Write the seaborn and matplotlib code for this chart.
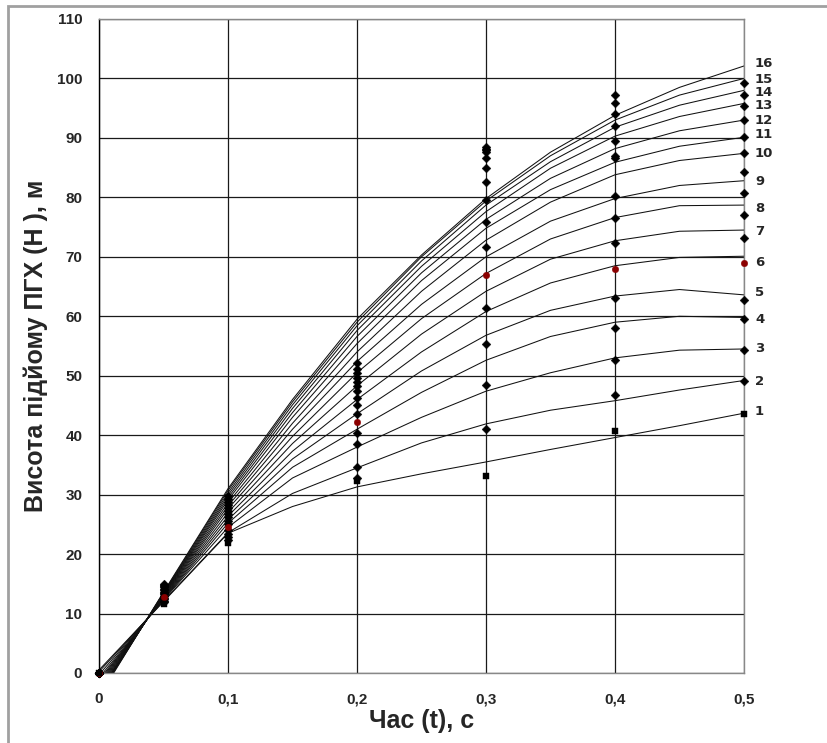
import numpy as np
import pandas as pd
import matplotlib
matplotlib.use("Agg")
import matplotlib.pyplot as plt
import seaborn as sns
from matplotlib.patches import Rectangle
from matplotlib.ticker import FuncFormatter

# ---------------- data ----------------
curve_ids = list(range(1, 17))

# measured points (markers), one list per time value, curves 1..16
t_points = [0.0, 0.05, 0.1, 0.2, 0.3, 0.4, 0.5]
P_t000 = [0.0] * 16
P_t005 = [11.6, 11.9, 12.1, 12.4, 12.6, 12.8, 13.0, 13.3, 13.5, 13.7, 13.9, 14.2, 14.4, 14.6, 14.8, 15.0]
P_t010 = [21.8, 22.3, 22.9, 23.4, 24.0, 24.5, 25.1, 25.6, 26.2, 26.7, 27.2, 27.8, 28.3, 28.8, 29.3, 29.8]
P_t020 = [32.3, 32.8, 34.6, 38.5, 40.4, 42.2, 43.6, 45.0, 46.3, 47.5, 48.2, 48.9, 49.7, 50.5, 51.2, 52.2]
P_t030 = [33.1, 41.1, 48.5, 55.4, 61.4, 66.9, 71.6, 75.9, 79.6, 82.6, 85.0, 86.7, 87.6, 87.9, 88.2, 88.5]
P_t040 = [40.7, 46.8, 52.7, 58.0, 63.1, 68.0, 72.3, 76.5, 80.2, 86.6, 87.0, 89.5, 92.0, 94.1, 95.9, 97.3]
P_t050 = [43.6, 49.1, 54.4, 59.5, 62.8, 69.0, 73.1, 77.1, 80.8, 84.2, 87.4, 90.2, 93.0, 95.3, 97.3, 99.2]

# calculated curves (lines), one list per time value, curves 1..16
t_curve = [0.0, 0.05, 0.1, 0.15, 0.2, 0.25, 0.3, 0.35, 0.4, 0.45, 0.5]
C_t000 = [0.5, 0.2, -0.3, -0.8, -1.2, -1.5, -1.8, -2.1, -2.4, -2.7, -3.0, -3.2, -3.4, -3.6, -3.8, -4.0]
C_t005 = [12.0, 12.1, 12.3, 12.4, 12.5, 12.6, 12.7, 12.8, 12.9, 13.0, 13.1, 13.2, 13.3, 13.4, 13.5, 13.6]
C_t010 = [23.5, 23.6, 24.5, 25.2, 25.8, 26.4, 27.0, 27.6, 28.1, 28.6, 29.1, 29.5, 29.9, 30.3, 30.7, 31.0]
C_t015 = [28.0, 30.2, 32.8, 34.6, 36.0, 37.3, 38.6, 39.8, 41.0, 42.0, 43.0, 43.8, 44.5, 45.1, 45.6, 46.0]
C_t020 = [31.3, 34.5, 38.0, 41.0, 43.6, 46.0, 48.3, 50.5, 52.4, 54.0, 55.4, 56.6, 57.6, 58.4, 59.0, 59.5]
C_t025 = [33.5, 38.7, 43.0, 47.2, 50.8, 54.0, 57.0, 59.6, 62.0, 64.2, 66.0, 67.3, 68.4, 69.3, 70.0, 70.3]
C_t030 = [35.5, 41.9, 47.4, 52.6, 56.8, 60.8, 64.2, 67.2, 70.0, 72.8, 74.8, 76.3, 77.6, 78.7, 79.4, 79.8]
C_t035 = [37.6, 44.2, 50.5, 56.6, 61.0, 65.6, 69.6, 73.0, 76.0, 79.2, 81.3, 83.2, 84.9, 86.0, 87.0, 87.6]
C_t040 = [39.6, 45.8, 53.0, 59.0, 63.4, 68.5, 72.7, 76.6, 79.8, 83.8, 85.9, 88.2, 90.3, 91.8, 93.0, 93.8]
C_t045 = [41.6, 47.6, 54.3, 60.0, 64.5, 69.9, 74.3, 78.6, 82.0, 86.2, 88.6, 91.2, 93.6, 95.5, 97.2, 98.5]
C_t050 = [43.7, 49.2, 54.5, 59.8, 63.6, 70.1, 74.5, 78.7, 82.8, 87.4, 90.1, 93.0, 95.8, 98.0, 100.0, 102.1]

label_y = [43.9, 49.1, 54.6, 59.4, 64.0, 69.0, 74.2, 78.2, 82.7, 87.4, 90.5, 93.0, 95.5, 97.6, 99.8, 102.5]

x_ticks = [0, 0.1, 0.2, 0.3, 0.4, 0.5]
y_ticks = list(range(0, 111, 10))

# ---------------- build tables ----------------
p_cols = [P_t000, P_t005, P_t010, P_t020, P_t030, P_t040, P_t050]
c_cols = [C_t000, C_t005, C_t010, C_t015, C_t020, C_t025, C_t030, C_t035, C_t040, C_t045, C_t050]

pts = pd.DataFrame([{"curve": cid, "t": t, "H": p_cols[ti][ci]}
                    for ci, cid in enumerate(curve_ids) for ti, t in enumerate(t_points)])
lines = pd.DataFrame([{"curve": cid, "t": t, "H": c_cols[ti][ci]}
                      for ci, cid in enumerate(curve_ids) for ti, t in enumerate(t_curve)])

# ---------------- plot ----------------
sns.set_theme(style="white")
plt.rcParams['font.family'] = ['Liberation Sans', 'DejaVu Sans']

fig = plt.figure(figsize=(8.27, 7.43), dpi=100)
ax = fig.add_axes([99/827, 70/743, 645/827, 654/743])

ax.set_xlim(0, 0.5)
ax.set_ylim(0, 110)
ax.grid(True, color="#1a1a1a", linewidth=0.9)
ax.set_axisbelow(True)

sns.lineplot(data=lines, x="t", y="H", units="curve", estimator=None, sort=False,
             color="#111111", linewidth=0.75, ax=ax, legend=False)

others = pts[~pts.curve.isin([1, 6])]
sns.scatterplot(data=others, x="t", y="H", marker="D", color="black",
                s=20, edgecolor="black", linewidth=0.3, ax=ax, legend=False,
                zorder=5, clip_on=False)
sns.scatterplot(data=pts[pts.curve == 6], x="t", y="H", marker="o", color="#8b0000",
                s=22, edgecolor="#8b0000", linewidth=0.3, ax=ax, legend=False,
                zorder=6, clip_on=False)
sns.scatterplot(data=pts[pts.curve == 1], x="t", y="H", marker="s", color="black",
                s=24, edgecolor="black", linewidth=0.3, ax=ax, legend=False,
                zorder=6, clip_on=False)

for cid, ly in zip(curve_ids, label_y):
    ax.text(0.5085, ly, str(cid), fontsize=9.5, fontweight="bold",
            ha="left", va="center", family=["DejaVu Sans"], clip_on=False)

ax.set_xticks(x_ticks)
ax.set_yticks(y_ticks)
ax.xaxis.set_major_formatter(FuncFormatter(lambda v, p: ("%g" % round(v, 2)).replace(".", ",")))
ax.yaxis.set_major_formatter(FuncFormatter(lambda v, p: "%d" % v))
ax.tick_params(axis="both", direction="out", labelsize=11, length=4, width=0.8,
               color="#333333")
ax.tick_params(axis="y", pad=8)
ax.tick_params(axis="x", pad=10)
for lab in ax.get_xticklabels() + ax.get_yticklabels():
    lab.set_fontweight("bold")

for side in ["top", "right", "bottom"]:
    ax.spines[side].set_color("#888888")
    ax.spines[side].set_linewidth(1.0)
ax.spines["left"].set_color("black")
ax.spines["left"].set_linewidth(1.0)

ax.set_xlabel("Час (t), с", fontsize=18, fontweight="bold", labelpad=2)
ax.set_ylabel("Висота підйому ПГХ (Н ), м", fontsize=18, fontweight="bold", labelpad=6)

fig.patches.append(Rectangle((8/827, -0.05), 1.2, 1 - 6/743 + 0.05,
                             transform=fig.transFigure, fill=False,
                             edgecolor="#a0a0a0", linewidth=2.0))

fig.savefig("out.png", dpi=100)
